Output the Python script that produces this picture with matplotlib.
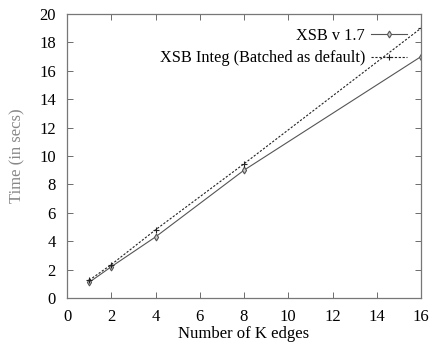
import matplotlib
matplotlib.use("Agg")
import matplotlib.pyplot as plt

plt.rcParams['font.family'] = ['Liberation Serif', 'DejaVu Serif']

edges = [1, 2, 4, 8, 16]
xsb_17 = [1.1, 2.2, 4.3, 9.0, 17.0]
xsb_integ = [1.25, 2.35, 4.8, 9.45, 19.0]

fig = plt.figure(figsize=(4.3, 3.42), dpi=100)
ax = fig.add_axes([67 / 430, 1 - 298 / 342, (421 - 67) / 430, (298 - 14) / 342])

ax.plot(edges, xsb_17, color='#555555', lw=0.8, marker='d', ms=3.5,
        mfc='#cccccc', mec='#555555', mew=0.8, label='XSB v 1.7')
ax.plot(edges, xsb_integ, color='#222222', lw=0.8, ls=(0, (2, 1.5)), marker='+',
        ms=5, mew=0.8, label='XSB Integ (Batched as default)')

ax.set_xlim(0, 16)
ax.set_ylim(0, 20)
ax.set_xticks(range(0, 17, 2))
ax.set_yticks(range(0, 21, 2))
ax.tick_params(direction='in', top=True, right=True, labelsize=12, length=4,
               width=0.6, color='#555555', pad=8)
for s in ax.spines.values():
    s.set_color('#777777')
    s.set_linewidth(0.9)

ax.set_xlabel('Number of K edges', fontsize=12, labelpad=1)
ax.set_ylabel('Time (in secs)', fontsize=12, color='#888888', labelpad=10)

ax.legend(loc='upper right', bbox_to_anchor=(1.0, 1.0), frameon=False,
          markerfirst=False, fontsize=11.7, handlelength=2.2, borderaxespad=0.45,
          labelspacing=0.4, handletextpad=0.4)

fig.savefig('out.png', dpi=100)
